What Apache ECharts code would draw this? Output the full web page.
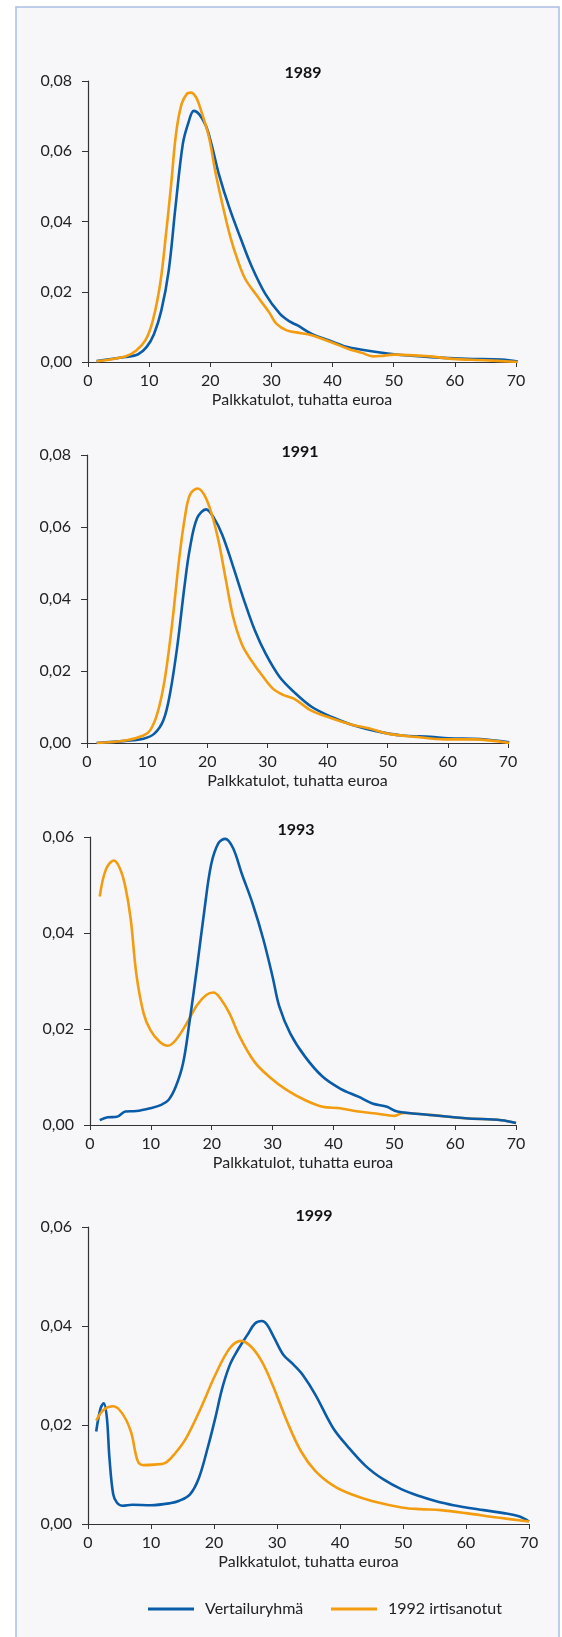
<!DOCTYPE html>
<html>
<head>
<meta charset="utf-8">
<script src="https://cdn.jsdelivr.net/npm/echarts@6/dist/echarts.min.js"></script>
<style>
html,body{margin:0;padding:0;background:#ffffff;}
#chart{width:562px;height:1637px;}
</style>
</head>
<body>
<div id="chart"></div>
<script>
// ---- Data (x = palkkatulot, tuhatta euroa; y = tiheys) ----
const panelTitles = ['1989', '1991', '1993', '1999'];
const seriesNames = ['Vertailuryhmä', '1992 irtisanotut'];
const xTicks = [0, 10, 20, 30, 40, 50, 60, 70];
const yMaxes = [0.08, 0.08, 0.06, 0.06];
const axisName = 'Palkkatulot, tuhatta euroa';

const blue1989 = [[1.4,0.0003],[6.1,0.0014],[8.2,0.0022],[9.6,0.0043],[10.8,0.008],[12.0,0.0147],[13.2,0.026],[14.3,0.044],[15.5,0.062],[16.4,0.068],[17.3,0.0715],[18.2,0.0705],[19.3,0.0672],[20.2,0.062],[21.4,0.0535],[23.1,0.044],[24.9,0.0355],[26.7,0.0275],[29.0,0.0194],[31.4,0.0137],[33.1,0.0114],[34.3,0.0104],[36.6,0.008],[40.1,0.0057],[41.9,0.0045],[44.8,0.0035],[50.1,0.0022],[56,0.0014],[61.9,0.0009],[67.7,0.0007],[70.4,0.0001]];
const orange1989 = [[1.4,0.0002],[6.1,0.0016],[7.9,0.0033],[9.4,0.0062],[10.6,0.0118],[11.8,0.0222],[12.7,0.0355],[13.6,0.0506],[14.4,0.065],[15.3,0.0734],[16.2,0.0764],[16.8,0.0767],[17.7,0.0753],[18.6,0.071],[19.8,0.0639],[20.9,0.0535],[22.1,0.044],[23.3,0.0355],[24.5,0.0289],[25.7,0.0237],[27.4,0.0194],[29.6,0.0142],[30.8,0.0109],[32.5,0.009],[34.9,0.0082],[36.6,0.0076],[40.1,0.0054],[42.5,0.0038],[44.8,0.0026],[46.6,0.0016],[47.8,0.0017],[50.1,0.0021],[56,0.0016],[59.5,0.0009],[64.8,0.0005],[70.4,0.0]];
const blue1991 = [[1.6,0.0],[6.4,0.0006],[9.4,0.0012],[11.2,0.0026],[12.7,0.0063],[13.8,0.0137],[15.0,0.0267],[16.2,0.0434],[17.1,0.054],[18.3,0.0624],[19.8,0.0649],[21.0,0.0628],[22.5,0.0578],[24.3,0.049],[26.1,0.0397],[27.9,0.0313],[29.7,0.0248],[32.0,0.0184],[34.4,0.0142],[37.4,0.01],[41.0,0.007],[44.0,0.0051],[48.1,0.0033],[52.3,0.0021],[57.1,0.0017],[60.1,0.0013],[65.4,0.0011],[70.2,0.0002]];
const orange1991 = [[1.6,0.0],[6.4,0.0007],[9.4,0.0021],[10.5,0.0035],[11.7,0.0082],[12.9,0.0174],[14.1,0.0323],[15.3,0.0508],[16.2,0.0619],[17.1,0.0689],[18.4,0.0707],[19.5,0.0689],[20.7,0.0638],[21.9,0.0559],[23.1,0.0452],[24.3,0.035],[25.8,0.0272],[27.3,0.023],[29.1,0.0188],[30.9,0.0151],[32.7,0.0133],[34.4,0.0123],[37.4,0.0089],[40.4,0.007],[44.0,0.0051],[47.0,0.004],[50.0,0.0026],[54.7,0.0017],[59.5,0.001],[64.3,0.001],[70.2,0.0]];
const blue1993 = [[1.6,0.001],[2.9,0.0016],[4.4,0.0017],[5.8,0.0028],[7.6,0.0029],[9.9,0.0035],[11.7,0.0042],[12.9,0.0052],[14.1,0.008],[15.3,0.0129],[16.4,0.0219],[17.6,0.033],[18.8,0.0448],[19.9,0.0542],[21.1,0.0587],[22.2,0.0596],[23.5,0.0577],[24.9,0.0525],[26.7,0.0462],[28.5,0.0386],[30.0,0.0309],[31.1,0.0247],[32.9,0.0191],[35.3,0.0143],[38.2,0.0101],[41.1,0.0076],[44.1,0.0059],[46.4,0.0045],[48.8,0.0038],[50.5,0.0028],[55.8,0.0021],[61.7,0.0014],[67.6,0.001],[70,0.0004]];
const orange1993 = [[1.6,0.0476],[2.6,0.0532],[3.9,0.0551],[4.9,0.0535],[5.8,0.0497],[6.7,0.0428],[7.6,0.0316],[8.8,0.0233],[9.9,0.0198],[11.4,0.0174],[12.8,0.0165],[14.1,0.0177],[15.9,0.0212],[17.6,0.025],[19.1,0.0271],[20.3,0.0276],[21.4,0.0264],[22.9,0.0233],[24.6,0.0184],[27.0,0.0132],[29.4,0.0101],[32.3,0.0073],[35.3,0.0052],[38.2,0.0038],[41.1,0.0035],[44.1,0.0028],[47.0,0.0024],[50.0,0.0019],[51.5,0.0025],[55.8,0.0021],[61.7,0.0014],[67.6,0.001],[70,0.0004]];
const blue1999 = [[1.3,0.0187],[2.0,0.0234],[2.5,0.0244],[3.0,0.0214],[3.4,0.0134],[4.0,0.006],[4.6,0.0043],[5.5,0.0037],[7.0,0.0039],[10.0,0.0038],[13.0,0.0042],[14.5,0.0047],[16.2,0.006],[17.6,0.0093],[19.0,0.0154],[20.2,0.0214],[21.3,0.0274],[22.5,0.0321],[23.6,0.0348],[25.3,0.0382],[26.5,0.0405],[27.6,0.041],[28.4,0.0403],[29.6,0.0375],[31.0,0.0342],[32.7,0.0321],[34.1,0.0301],[36.1,0.0261],[38.9,0.0194],[41.2,0.0157],[44.1,0.0117],[46.9,0.009],[49.8,0.007],[52.7,0.0056],[55.0,0.0047],[58.0,0.0038],[62.8,0.0028],[66.0,0.0022],[68.5,0.0015],[70,0.0005]];
const orange1999 = [[1.3,0.0209],[2.5,0.0231],[4.0,0.0238],[5.4,0.0224],[6.8,0.0187],[7.9,0.0127],[8.8,0.0119],[10.5,0.012],[12.2,0.0123],[13.9,0.0144],[15.6,0.0174],[17.9,0.0234],[20.2,0.0301],[22.5,0.0355],[24.3,0.037],[25.9,0.0358],[27.6,0.0328],[29.3,0.0281],[31.6,0.0207],[33.8,0.0147],[36.1,0.0107],[39.0,0.0077],[41.8,0.006],[45.2,0.0046],[50.0,0.0033],[52.7,0.003],[56.0,0.0028],[60.0,0.0022],[65.0,0.0013],[70,0.0005]];

const blueData = [blue1989, blue1991, blue1993, blue1999];
const orangeData = [orange1989, orange1991, orange1993, orange1999];

// ---- Layout ----
const grids = [
  {left: 88, top: 81, width: 428, height: 281},
  {left: 87, top: 455, width: 421, height: 288},
  {left: 90, top: 837, width: 426, height: 288},
  {left: 88, top: 1227, width: 441, height: 297}
];
const titlePos = [[303, 73], [300, 452], [296, 830], [314, 1216]];
const BLUE = '#0b5ca8', ORANGE = '#f39c0f';
const FONT = 'Lato';
const txt = '#222222';

const xAxes = grids.map((g, i) => ({
  type: 'value', gridIndex: i, min: 0, max: 70, interval: 10,
  axisLine: {show: true, onZero: false, lineStyle: {color: '#333', width: 1.2}},
  axisTick: {show: true, length: 5, lineStyle: {color: '#333'}},
  splitLine: {show: false},
  axisLabel: {color: txt, fontSize: 16, fontFamily: FONT, margin: 11},
  name: axisName, nameLocation: 'middle', nameGap: 30,
  nameTextStyle: {color: txt, fontSize: 16, fontFamily: FONT}
}));
const yAxes = grids.map((g, i) => ({
  type: 'value', gridIndex: i, min: 0, max: yMaxes[i], interval: 0.02,
  axisLine: {show: true, lineStyle: {color: '#333', width: 1.2}},
  axisTick: {show: true, length: 6, lineStyle: {color: '#333'}},
  splitLine: {show: false},
  axisLabel: {color: txt, fontSize: 16, fontFamily: FONT, margin: 16,
    formatter: v => v.toFixed(2).replace('.', ',')}
}));

const series = [];
for (let i = 0; i < 4; i++) {
  const blueOnTop = (i === 2);
  series.push({name: seriesNames[0], type: 'line', xAxisIndex: i, yAxisIndex: i,
    data: blueData[i], smooth: 0.35, showSymbol: false, symbol: 'none',
    lineStyle: {color: BLUE, width: 2.6}, itemStyle: {color: BLUE}, z: blueOnTop ? 5 : 3});
  series.push({name: seriesNames[1], type: 'line', xAxisIndex: i, yAxisIndex: i,
    data: orangeData[i], smooth: 0.35, showSymbol: false, symbol: 'none',
    lineStyle: {color: ORANGE, width: 2.6}, itemStyle: {color: ORANGE}, z: 4});
}

const graphics = [
  {type: 'rect', shape: {x: 16, y: 7, width: 543, height: 1640}, z: -10,
   style: {fill: '#f7f7fa', stroke: '#a9bfe6', lineWidth: 1.5}}
];
panelTitles.forEach((t, i) => {
  graphics.push({type: 'text', x: titlePos[i][0], y: titlePos[i][1], z: 10,
    style: {text: t, fill: '#111', font: 'bold 16px ' + FONT, textAlign: 'center', textVerticalAlign: 'middle'}});
});

const legendCommon = {
  icon: 'rect', itemWidth: 46, itemHeight: 3, top: 1596,
  textStyle: {color: txt, fontSize: 16, fontFamily: FONT, padding: [0, 0, 0, 6]}
};

const chart = echarts.init(document.getElementById('chart'), null, {renderer: 'canvas'});
chart.setOption({
  animation: false,
  backgroundColor: '#ffffff',
  grid: grids,
  xAxis: xAxes,
  yAxis: yAxes,
  series: series,
  graphic: graphics,
  legend: [
    Object.assign({data: [seriesNames[0]], left: 143}, legendCommon),
    Object.assign({data: [seriesNames[1]], left: 326}, legendCommon)
  ]
});
</script>
</body>
</html>
